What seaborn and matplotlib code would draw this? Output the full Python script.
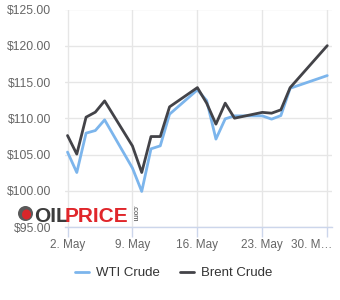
import matplotlib
matplotlib.use("Agg")
import matplotlib.pyplot as plt
import matplotlib.transforms as mtransforms
from matplotlib.lines import Line2D
from matplotlib.patches import Ellipse
import numpy as np
import pandas as pd
import seaborn as sns

# ---- data ----
dates = ["2022-05-02", "2022-05-03", "2022-05-04", "2022-05-05", "2022-05-06",
         "2022-05-09", "2022-05-10", "2022-05-11", "2022-05-12", "2022-05-13",
         "2022-05-16", "2022-05-17", "2022-05-18", "2022-05-19", "2022-05-20",
         "2022-05-23", "2022-05-24", "2022-05-25", "2022-05-26", "2022-05-30"]
wti = [105.36, 102.55, 107.97, 108.33, 109.80,
       103.16, 99.94, 105.81, 106.22, 110.58,
       113.93, 112.46, 107.15, 109.94, 110.35,
       110.35, 109.90, 110.39, 114.15, 115.90]
brent = [107.64, 105.08, 110.17, 110.86, 112.41,
         106.20, 102.55, 107.50, 107.50, 111.59,
         114.24, 112.10, 109.21, 112.10, 110.03,
         110.83, 110.72, 111.18, 114.24, 120.02]
series_names = ["WTI Crude", "Brent Crude"]
series_colors = ["#7cb5ec", "#434348"]
tick_dates = ["2022-05-02", "2022-05-09", "2022-05-16", "2022-05-23", "2022-05-30"]
tick_labels = ["2. May", "9. May", "16. May", "23. May", "30. M…"]
y_ticks = [95, 100, 105, 110, 115, 120, 125]

df = pd.DataFrame({
    "date": pd.to_datetime(dates * 2),
    "price": wti + brent,
    "series": [series_names[0]] * len(dates) + [series_names[1]] * len(dates),
})

sns.set_theme(style="white")
plt.rcParams["font.family"] = ["Liberation Sans", "DejaVu Sans"]

W, H = 340, 300
fig = plt.figure(figsize=(W / 100, H / 100), dpi=100)
left, right, top, bottom = 65, 331.7, 9.5, 227.3
ax = fig.add_axes([left / W, 1 - bottom / H, (right - left) / W, (bottom - top) / H])

sns.lineplot(data=df, x="date", y="price", hue="series",
             palette=dict(zip(series_names, series_colors)),
             linewidth=2, ax=ax, legend=False, zorder=3)

t0 = pd.Timestamp(tick_dates[0])
t1 = pd.Timestamp(tick_dates[-1])
ax.set_xlim(t0 - pd.Timedelta(hours=6.5), t1 + pd.Timedelta(hours=11.5))
ax.set_ylim(95, 125)

ax.set_xticks(pd.to_datetime(tick_dates))
ax.set_xticklabels(tick_labels)
ax.set_yticks(y_ticks)
ax.set_yticklabels([f"${v:.2f}" for v in y_ticks])

ax.set_xlabel("")
ax.set_ylabel("")
ax.grid(True, color="#e6e6e6", linewidth=1)
ax.set_axisbelow(True)
for s in ["top", "right", "left"]:
    ax.spines[s].set_visible(False)
ax.spines["bottom"].set_color("#ccd6eb")
ax.spines["bottom"].set_linewidth(1)
ax.tick_params(axis="x", which="both", length=7, width=1, color="#ccd6eb",
               labelsize=8.5, labelcolor="#666666", pad=1.5, direction="out", bottom=True)
ax.tick_params(axis="y", length=0, labelsize=8.7, labelcolor="#666666", pad=10)

# keep the last (truncated) x label inside the figure, like the reference
last = ax.get_xticklabels()[-1]
last.set_horizontalalignment("right")
last.set_transform(last.get_transform() +
                   mtransforms.ScaledTranslation(5 / 100, 0, fig.dpi_scale_trans))

# legend
handles = [Line2D([0], [0], color=c, linewidth=2) for c in series_colors]
fig.legend(handles, series_names, loc="center", bbox_to_anchor=(0.51, 1 - 273 / H),
           ncol=2, frameon=False, fontsize=9.5, handlelength=1.1, handletextpad=0.5,
           columnspacing=1.5, labelcolor="#333333")

# watermark logo
fig.patches.append(Ellipse((25.5 / W, 1 - 213.5 / H), 15 / W, 15 / H,
                           transform=fig.transFigure, facecolor="#5a5a5a", edgecolor="none"))
fig.patches.append(Ellipse((26.5 / W, 1 - 214.5 / H), 9 / W, 10 / H,
                           transform=fig.transFigure, facecolor="#d9262b", edgecolor="none"))
fig.text(34 / W, 1 - 221.5 / H, "OIL", color="#3c3c3c", fontsize=15, fontweight="bold",
         ha="left", va="baseline")
fig.text(65 / W, 1 - 221.5 / H, "PRICE", color="#e0262b", fontsize=15, fontweight="bold",
         ha="left", va="baseline")
fig.text(130 / W, 1 - 213 / H, ".com", color="#3c3c3c", fontsize=5.5, rotation=-90,
         ha="left", va="center")

fig.savefig("out.png", dpi=100)
